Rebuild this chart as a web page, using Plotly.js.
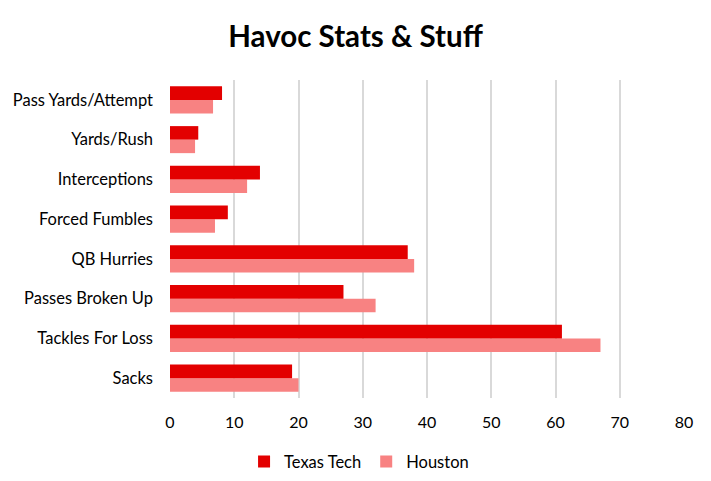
<!DOCTYPE html>
<html><head><meta charset="utf-8">
<script src="https://cdn.plot.ly/plotly-3.0.1.min.js"></script>
<style>body{margin:0;padding:0;background:#fff}#chart{width:711px;height:481px}</style>
</head><body><div id="chart"></div>
<script>
const categories = ["Sacks","Tackles For Loss","Passes Broken Up","QB Hurries","Forced Fumbles","Interceptions","Yards/Rush","Pass Yards/Attempt"];
const texasTech = [19, 61, 27, 37, 9, 14, 4.4, 8.1];
const houston = [20, 67, 32, 38, 7, 12, 3.9, 6.7];
const xTicks = [0,10,20,30,40,50,60,70,80];

const font = "Lato, 'Open Sans', sans-serif";
const data = [
  {type:'bar', orientation:'h', name:'Houston', y:categories, x:houston,
   marker:{color:'#F88282', line:{color:'#E87070', width:0}}},
  {type:'bar', orientation:'h', name:'Texas Tech', y:categories, x:texasTech,
   marker:{color:'#E30000', line:{color:'#D00000', width:0}}}
];
const layout = {
  width:711, height:481,
  margin:{l:170, r:27, t:80, b:83, autoexpand:false},
  paper_bgcolor:'#fff', plot_bgcolor:'#fff',
  barmode:'group', bargap:0.32, bargroupgap:0,
  title:{text:'<b>Havoc Stats & Stuff</b>', x:0.5, xref:'container', xanchor:'center', y:0.923, yref:'container', yanchor:'middle',
         font:{family:font, size:29.5, color:'#000'}},
  xaxis:{range:[0,80], tickvals:xTicks, ticktext:xTicks.map(String), showgrid:true, gridcolor:'#D9D9D9', gridwidth:2,
         zeroline:false, showline:false, ticks:'', ticklabelstandoff:13,
         tickfont:{family:font, size:16, color:'#000'}, automargin:false},
  yaxis:{type:'category', showgrid:false, zeroline:false, showline:false, ticks:'', ticklabelstandoff:16,
         tickfont:{family:font, size:16.5, color:'#000'}, automargin:false},
  legend:{orientation:'h', x:0.505, xref:'container', xanchor:'center', y:0.04, yref:'container', yanchor:'middle', traceorder:'reversed',
          font:{family:font, size:16.5, color:'#000'}, itemwidth:30, tracegroupgap:0},
  showlegend:true
};
Plotly.newPlot('chart', data, layout, {displayModeBar:false, staticPlot:true});
</script></body></html>
